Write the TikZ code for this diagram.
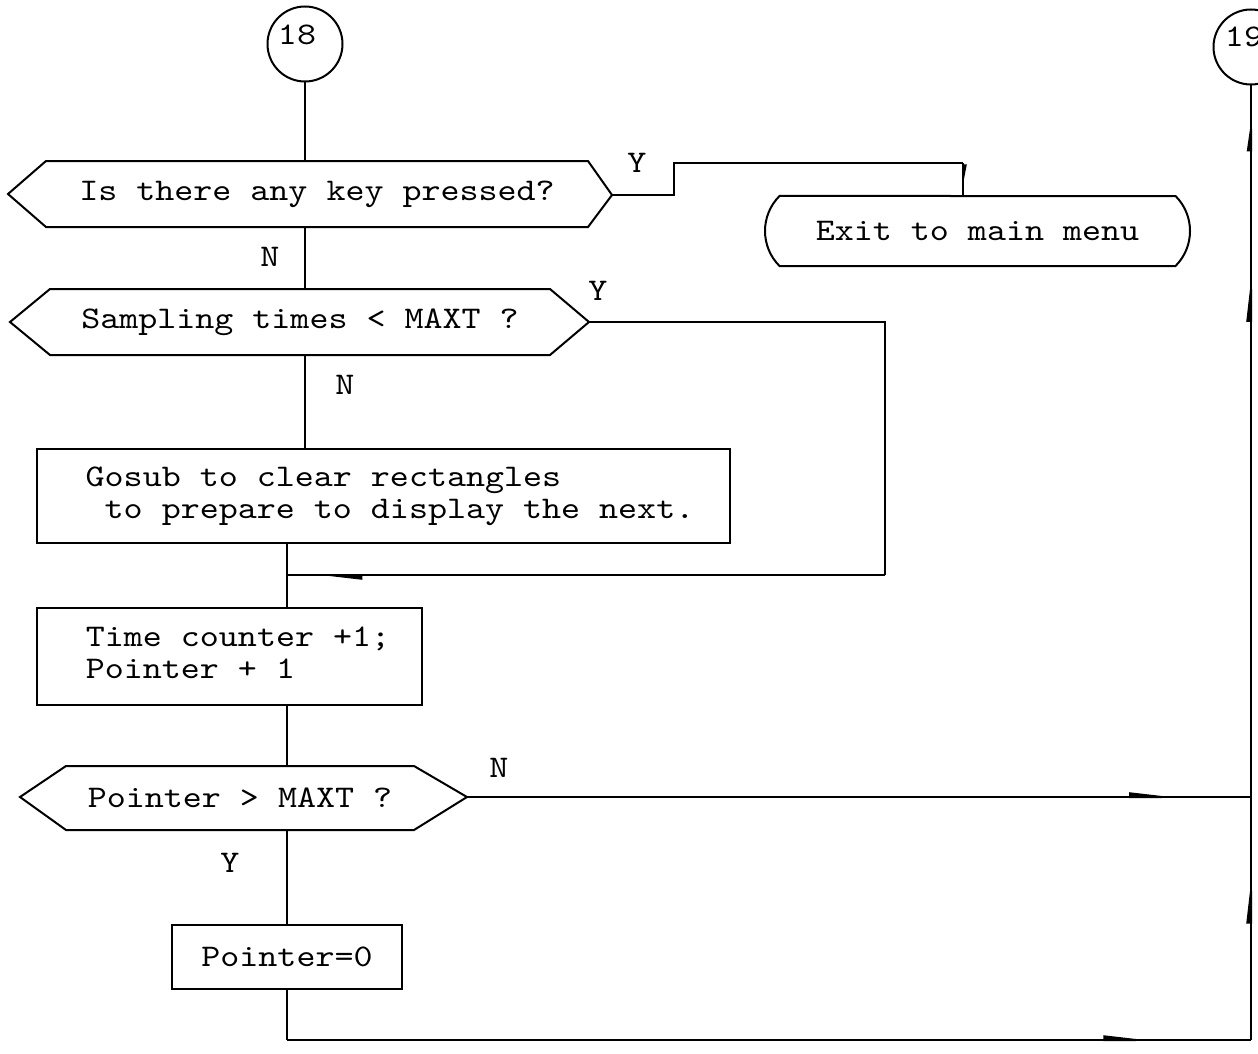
\documentclass[tikz,border=0pt]{standalone}
\usepackage{fontspec}
\newfontfamily\flowfont{lmmono10-regular.otf}[FakeStretch=1.15]
\usetikzlibrary{shapes.misc,arrows.meta,decorations.markings,calc}
\newcommand\flowtext{\flowfont\fontsize{31.5}{32}\selectfont}

\tikzset{
  txt/.style={font=\flowtext, inner sep=0pt},
  body/.style={txt, draw=none, minimum height=#1},
  proc/.style={txt, draw, rectangle, inner xsep=49pt},
  term/.style={txt, draw, rounded rectangle, rounded rectangle arc length=90},
  conn/.style={draw, circle, minimum size=75pt, inner sep=0pt},
  hexline/.style={draw, line join=miter},
  midtip/.style={postaction={decorate, decoration={markings,
      mark=at position #1 with {\arrow{Triangle[harpoon,length=42pt,width=9pt]}}}}},
  midtipS/.style={postaction={decorate, decoration={markings,
      mark=at position #1 with {\arrow{Triangle[harpoon,length=20pt,width=7pt]}}}}},
  midtipTwo/.style 2 args={postaction={decorate, decoration={markings,
      mark=at position #1 with {\arrow{Triangle[harpoon,length=42pt,width=9pt]}},
      mark=at position #2 with {\arrow{Triangle[harpoon,length=30pt,width=8pt]}}}}},
}
% left-aligned lines; the trailing kern sets the right-hand margin
\newcommand\leftlines[2]{\begin{tabular}{@{}l@{}}#2\end{tabular}\hspace*{#1}}

\begin{document}
\begin{tikzpicture}[x=1pt, y=-1pt, line width=2pt]
\useasboundingbox (0,0) rectangle (1258,1054);
\clip (0,0) rectangle (1258,1054);
\fill[white] (0,0) rectangle (1258,1054);

% off-page connectors
\node[conn] (c18) at (305,44) {};
\node[txt] (t18) at (297,35) {18};
\node[conn] (c19) at (1251,47) {};
\node[txt] (t19) at (1244,37) {19};

% decision: key pressed
\node[body=64pt, minimum width=540pt] (q1) at (317,194) {Is there any key pressed?};
\coordinate (q1l) at (8,194);
\coordinate (q1r) at (612,195);
\draw[hexline] (q1l) -- (q1.north west) -- (q1.north east) -- (q1r)
  -- (q1.south east) -- (q1.south west) -- cycle;

% terminal: exit
\node[term, minimum width=425pt, minimum height=70pt] (ex) at (977.5,231) {Exit to main menu};

% decision: sampling times
\node[body=64pt, minimum width=498pt] (q2) at (300,322) {Sampling times < MAXT ?};
\coordinate (q2l) at (10,322);
\coordinate (q2r) at (589,322);
\draw[hexline] (q2l) -- (q2.north west) -- (q2.north east) -- (q2r)
  -- (q2.south east) -- (q2.south west) -- cycle;

% process boxes
\node[proc, minimum width=693pt, minimum height=94pt] (r1) at (383.5,496)
  {\leftlines{-13pt}{Gosub to clear rectangles\\ \hphantom{x}to prepare to display the next.}};
\node[proc, minimum width=385pt, minimum height=97pt] (r2) at (229.5,656.5)
  {\leftlines{-17pt}{Time counter +1;\\ Pointer + 1}};

% decision: pointer
\node[body=62pt, minimum width=346pt] (q3) at (240,798) {Pointer > MAXT ?};
\coordinate (q3l) at (20,797);
\coordinate (q3r) at (467,797);
\draw[hexline] (q3l) -- (q3.north west) -- (q3.north east) -- (q3r)
  -- (q3.south east) -- (q3.south west) -- cycle;

\node[txt, draw, minimum width=230pt, minimum height=64pt] (p0) at (287,957) {Pointer=0};

% branch labels
\node[txt] (y1) at (637,163) {Y};
\node[txt] (n1) at (270,257) {N};
\node[txt] (y2) at (598,291) {Y};
\node[txt] (n2) at (345,385) {N};
\node[txt] (n3) at (499,768) {N};
\node[txt] (y3) at (230,863) {Y};

% main column, upper part
\draw (c18.south) -- (c18.south |- q1.north);
\draw (q1.south -| c18) -- (q2.north -| c18);
\draw (q2.south -| c18) -- (r1.north -| c18);

% main column, lower part
\draw (r1.south -| p0) -- (r2.north -| p0);
\draw (r2.south -| p0) -- (q3.north -| p0);
\draw (q3.south -| p0) -- (p0.north);

% key pressed -> exit
\coordinate (k0) at ($(q1r)+(62,0)$);
\coordinate (k1) at (k0 |- 0,163);
\coordinate (k2) at (963,163);
\draw (q1r) -- (k0) -- (k1) -- (k2);
\draw[midtipS=0.85] (k2) -- (k2 |- ex.north);

% sampling times < MAXT -> skip the clearing
\coordinate (k3) at (885,322);
\coordinate (k4) at (885,575);
\coordinate (j1) at (p0 |- k4);
\draw (q2r) -- (k3) -- (k4);
\draw[midtip=0.96] (k4) -- (j1);

% pointer branches to connector 19
\coordinate (jn) at (c19 |- q3r);
\coordinate (bl) at (p0 |- 0,1040);
\coordinate (br) at (c19 |- bl);
\draw[midtip=0.91] (q3r) -- (jn);
\draw (p0.south) -- (bl);
\draw[midtip=0.9] (bl) -- (br);
\draw[midtip=0.69] (br) -- (jn);
\draw[midtipTwo={0.74}{0.96}] (jn) -- (c19.south);
\end{tikzpicture}
\end{document}
